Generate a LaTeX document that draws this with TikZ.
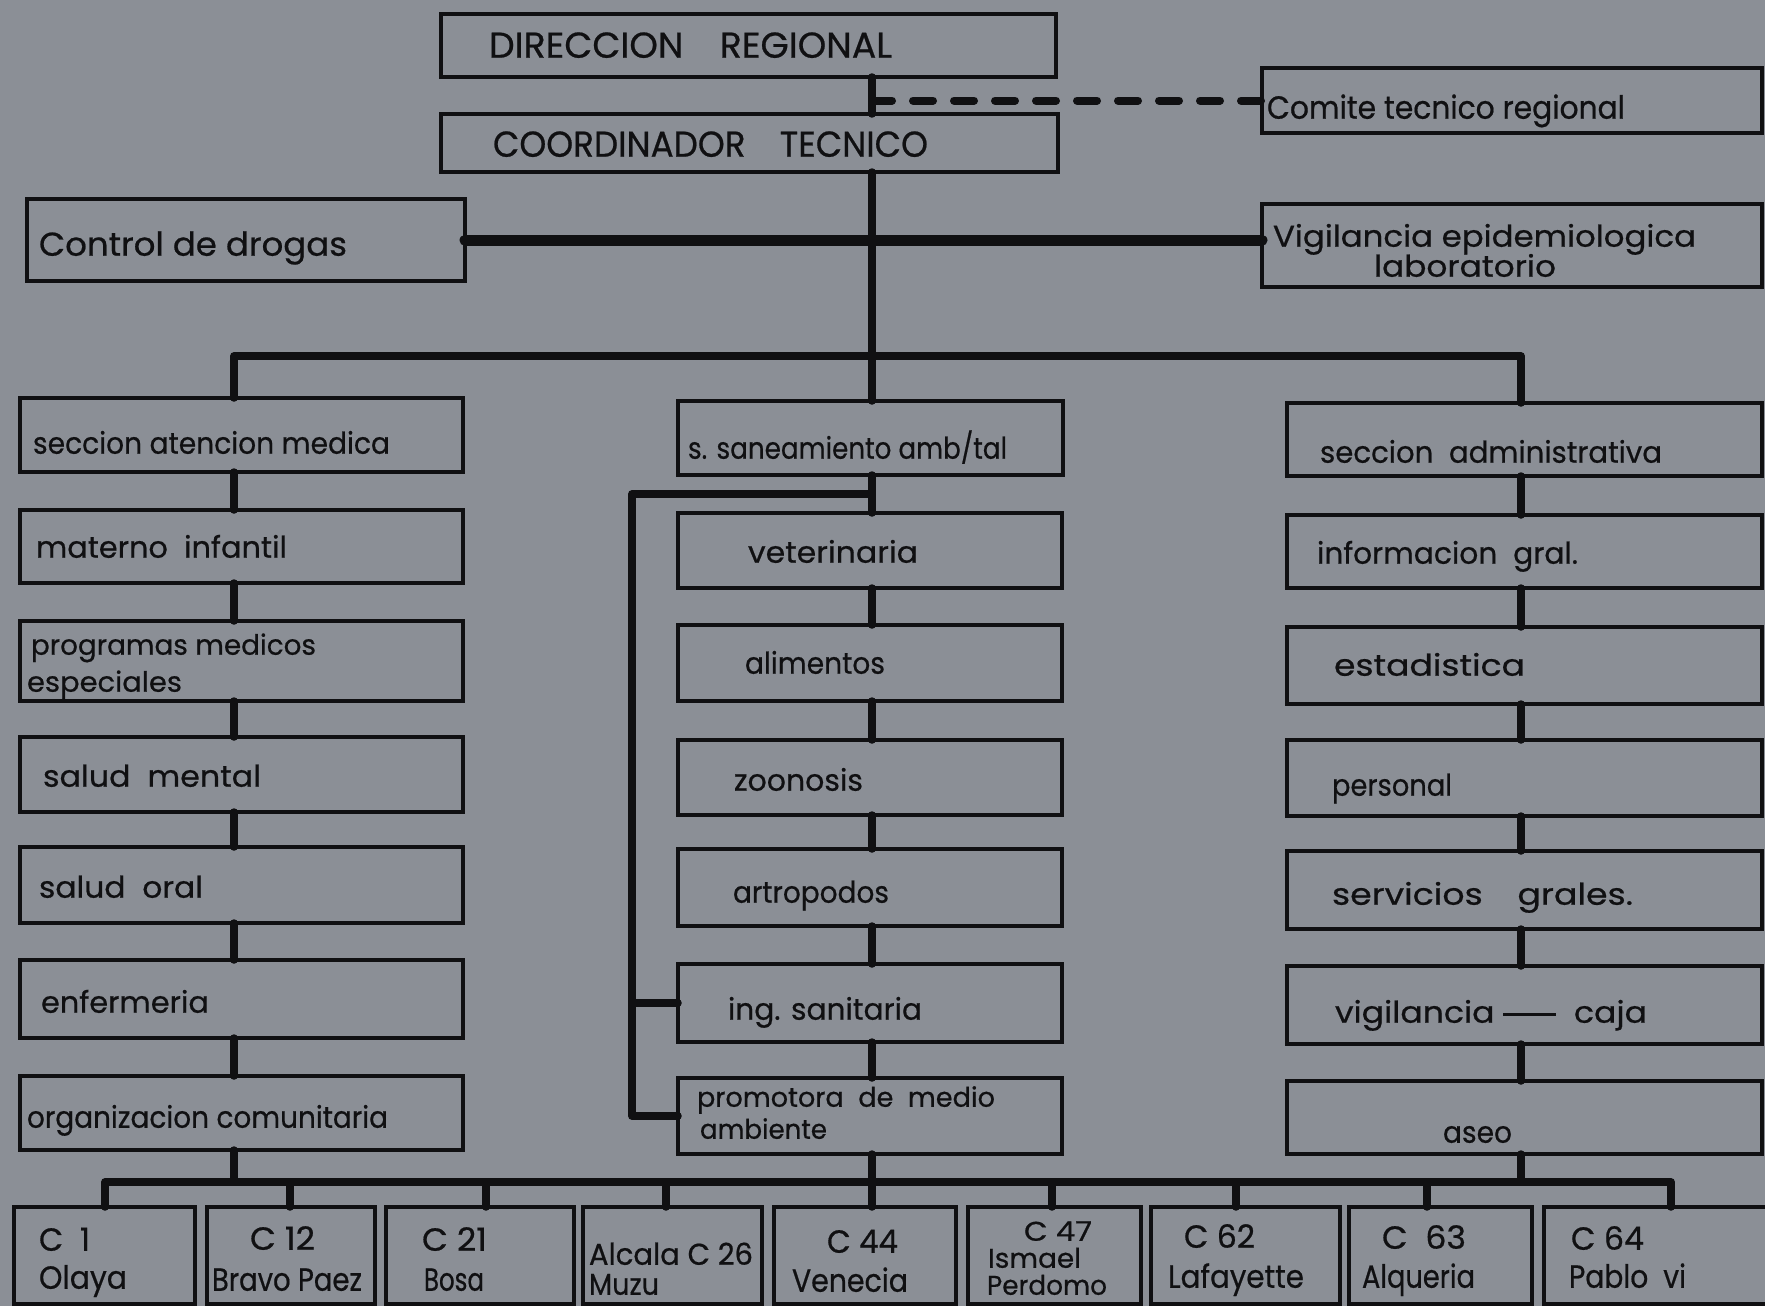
\documentclass[tikz,border=0pt]{standalone}
\usepackage{fontspec}
\setmainfont{Poppins}[FakeBold=0.6]
\usepackage{graphicx}
\definecolor{bg}{RGB}{139,143,150}
\definecolor{ink}{RGB}{16,16,18}
\newlength\wtl
\newcommand\wt[2]{\settowidth\wtl{#2}\pgfmathsetmacro\wsx{(#1)/\wtl}\scalebox{\wsx}[1]{#2}}
\newcommand\bx[5]{\node[box,minimum width={#4-#2},minimum height={#5-#3}] (#1) at ({(#2+#4)/2},{(#3+#5)/2}) {};}
\newcommand\tx[6]{\node[lbl,font=\fontsize{#5}{#5}\selectfont] (#1) at (#2,#4) {\wt{#3-#2}{#6}};}
\tikzset{
  box/.style={draw=ink,line width=3.5pt,rectangle,inner sep=0pt,outer sep=0pt},
  lbl/.style={anchor=mid west,inner sep=0pt,outer sep=0pt,text=ink,yshift=-8pt},
  conn/.style={draw=ink,line width=7.5pt,line cap=round,line join=round},
  heavy/.style={draw=ink,line width=11pt,line cap=round},
  dashconn/.style={draw=ink,line width=8pt,line cap=round,dash pattern=on 20pt off 21pt}
}
\begin{document}
\begin{tikzpicture}[x=1pt,y=-1pt]
\fill[bg] (0,0) rectangle (1765,1306);
\useasboundingbox (0,0) rectangle (1765,1306);
% reference coordinates
\coordinate (tk) at (872,0);
\coordinate (lc) at (234,0);
\coordinate (rc) at (1521,0);
\coordinate (barT) at (0,356);
\coordinate (barB) at (0,1182);
\coordinate (brk) at (632,494);
\coordinate (d1) at (105,0);
\coordinate (d2) at (290,0);
\coordinate (d3) at (486,0);
\coordinate (d4) at (666,0);
\coordinate (d5) at (872,0);
\coordinate (d6) at (1052,0);
\coordinate (d7) at (1236,0);
\coordinate (d8) at (1427,0);
\coordinate (d9) at (1671,0);
% boxes
\bx{dir}{441}{14}{1056}{77}
\bx{coord}{441}{114}{1058}{172}
\bx{comite}{1262}{68}{1762}{133}
\bx{drog}{27}{199}{465}{281}
\bx{vig}{1262}{204}{1762}{287}
\bx{sam}{20}{398}{463}{472}
\bx{mat}{20}{510}{463}{583}
\bx{prog}{20}{621}{463}{701}
\bx{salm}{20}{737}{463}{812}
\bx{salo}{20}{847}{463}{923}
\bx{enf}{20}{960}{463}{1038}
\bx{org}{20}{1076}{463}{1150}
\bx{san}{678}{401}{1063}{475}
\bx{vet}{678}{513}{1062}{588}
\bx{ali}{678}{625}{1062}{701}
\bx{zoo}{678}{740}{1062}{815}
\bx{art}{678}{849}{1062}{926}
\bx{ing}{678}{964}{1062}{1042}
\bx{prom}{678}{1078}{1062}{1154}
\bx{adm}{1287}{403}{1762}{476}
\bx{inf}{1287}{515}{1762}{588}
\bx{est}{1287}{627}{1762}{704}
\bx{per}{1287}{740}{1762}{816}
\bx{ser}{1287}{851}{1762}{929}
\bx{vigc}{1287}{966}{1762}{1044}
\bx{aseo}{1287}{1081}{1762}{1154}
\bx{c1}{14}{1207}{195}{1304}
\bx{c12}{207}{1207}{375}{1304}
\bx{c21}{386}{1207}{574}{1304}
\bx{c26}{583}{1207}{762}{1304}
\bx{c44}{774}{1207}{956}{1304}
\bx{c47}{968}{1207}{1141}{1304}
\bx{c62}{1151}{1207}{1340}{1304}
\bx{c63}{1349}{1207}{1532}{1304}
\bx{c64}{1544}{1207}{1775}{1304}
% connectors
\draw[conn] (dir.south -| tk) -- (coord.north -| tk);
\draw[dashconn] (tk |- comite.west) -- (comite.west);
\draw[conn] (coord.south -| tk) -- (san.north -| tk);
\draw[heavy] (drog.east) -- (drog.east -| vig.west);
\draw[conn] (sam.north -| lc) -- (lc |- barT) -- (rc |- barT) -- (adm.north -| rc);
\foreach \a/\b in {sam/mat,mat/prog,prog/salm,salm/salo,salo/enf,enf/org}
  \draw[conn] (\a.south -| lc) -- (\b.north -| lc);
\foreach \a/\b in {san/vet,vet/ali,ali/zoo,zoo/art,art/ing,ing/prom}
  \draw[conn] (\a.south -| tk) -- (\b.north -| tk);
\foreach \a/\b in {adm/inf,inf/est,est/per,per/ser,ser/vigc,vigc/aseo}
  \draw[conn] (\a.south -| rc) -- (\b.north -| rc);
\draw[conn] (tk |- brk) -- (brk) -- (brk |- prom.west) -- (prom.west);
\draw[conn] (brk |- ing.west) -- (ing.west);
\draw[conn] (org.south -| lc) -- (lc |- barB);
\draw[conn] (prom.south -| tk) -- (c44.north -| tk);
\draw[conn] (aseo.south -| rc) -- (rc |- barB);
\draw[conn] (c1.north -| d1) -- (d1 |- barB) -- (d9 |- barB) -- (c64.north -| d9);
\draw[conn] (d2 |- barB) -- (c12.north -| d2);
\draw[conn] (d3 |- barB) -- (c21.north -| d3);
\draw[conn] (d4 |- barB) -- (c26.north -| d4);
\draw[conn] (d6 |- barB) -- (c47.north -| d6);
\draw[conn] (d7 |- barB) -- (c62.north -| d7);
\draw[conn] (d8 |- barB) -- (c63.north -| d8);
% texts
\tx{t-dir}{489}{892}{47}{36}{DIRECCION\quad REGIONAL}
\tx{t-coord}{493}{928}{146}{36}{COORDINADOR\quad TECNICO}
\tx{t-comite}{1267}{1625}{108}{32}{Comite tecnico regional}
\tx{t-drog}{39}{347}{245}{33}{Control de drogas}
\tx{t-vig1}{1273}{1696}{236}{30}{Vigilancia epidemiologica}
\tx{t-vig2}{1374}{1556}{266}{30}{laboratorio}
\tx{t-sam}{33}{390}{443}{30}{seccion atencion medica}
\tx{t-mat}{36}{287}{547}{30}{materno\ \ infantil}
\tx{t-prog1}{31}{316}{644}{28}{programas medicos}
\tx{t-prog2}{27}{182}{681}{28}{especiales}
\tx{t-salm}{43}{261}{776}{30}{salud\ \ mental}
\tx{t-salo}{39}{203}{887}{30}{salud\ \ oral}
\tx{t-enf}{41}{209}{1002}{30}{enfermeria}
\tx{t-org}{27}{388}{1117}{30}{organizacion comunitaria}
\tx{t-san}{688}{1007}{448}{30}{s. saneamiento amb/tal}
\tx{t-vet}{748}{918}{552}{30}{veterinaria}
\tx{t-ali}{745}{885}{663}{30}{alimentos}
\tx{t-zoo}{734}{863}{780}{30}{zoonosis}
\tx{t-art}{733}{889}{892}{30}{artropodos}
\tx{t-ing}{728}{922}{1009}{30}{ing. sanitaria}
\tx{t-prom1}{697}{995}{1096}{27}{promotora\ \ de\ \ medio}
\tx{t-prom2}{700}{827}{1128}{27}{ambiente}
\tx{t-adm}{1320}{1662}{452}{30}{seccion\ \ administrativa}
\tx{t-inf}{1317}{1578}{553}{30}{informacion\ \ gral.}
\tx{t-est}{1334}{1525}{665}{30}{estadistica}
\tx{t-per}{1332}{1452}{785}{30}{personal}
\tx{t-ser}{1332}{1633}{894}{30}{servicios\quad grales.}
\tx{t-vigc}{1335}{1647}{1012}{30}{vigilancia\ \rule[0.22em]{1.6em}{3pt}\ \ caja}
\tx{t-aseo}{1443}{1512}{1132}{30}{aseo}
\tx{t-c1a}{39}{90}{1240}{32}{C\ \ 1}
\tx{t-c1b}{39}{127}{1278}{32}{Olaya}
\tx{t-c12a}{250}{315}{1239}{32}{C 12}
\tx{t-c12b}{212}{362}{1280}{32}{Bravo Paez}
\tx{t-c21a}{422}{487}{1240}{32}{C 21}
\tx{t-c21b}{424}{484}{1280}{32}{Bosa}
\tx{t-c26a}{589}{753}{1254}{30}{Alcala C 26}
\tx{t-c26b}{589}{659}{1284}{30}{Muzu}
\tx{t-c44a}{827}{898}{1242}{32}{C 44}
\tx{t-c44b}{792}{908}{1281}{32}{Venecia}
\tx{t-c47a}{1024}{1092}{1230}{27}{C 47}
\tx{t-c47b}{988}{1081}{1257}{27}{Ismael}
\tx{t-c47c}{987}{1107}{1284}{27}{Perdomo}
\tx{t-c62a}{1184}{1255}{1237}{32}{C 62}
\tx{t-c62b}{1168}{1304}{1277}{32}{Lafayette}
\tx{t-c63a}{1382}{1466}{1238}{32}{C\ \ 63}
\tx{t-c63b}{1362}{1475}{1277}{32}{Alqueria}
\tx{t-c64a}{1571}{1644}{1239}{32}{C\ 64}
\tx{t-c64b}{1569}{1686}{1277}{32}{Pablo\ \ vi}
\end{tikzpicture}
\end{document}
